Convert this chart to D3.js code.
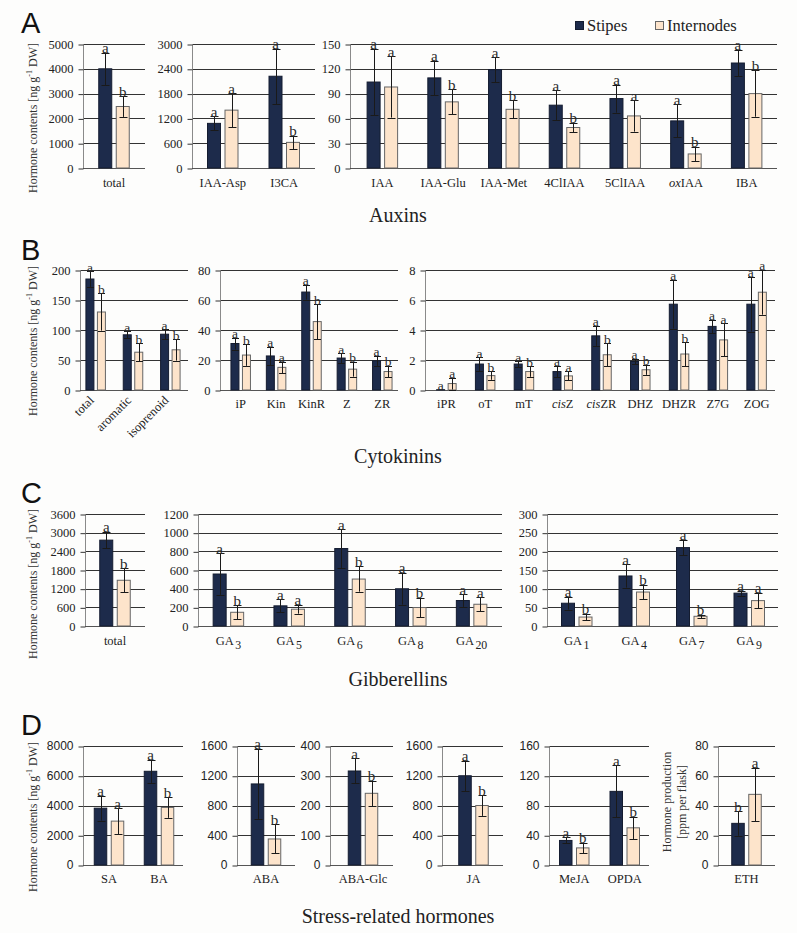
<!DOCTYPE html>
<html><head><meta charset="utf-8">
<script src="https://cdn.jsdelivr.net/npm/d3@7"></script>
<style>body{margin:0;background:#fff}</style>
</head><body>
<svg id="c" width="797" height="933"></svg>
<script>
// ---------- DATA ----------
// Panel A: Auxins
const A1_categories = ["total"];
const A1_stipes = [4000];
const A1_stipesErr = [650];
const A1_internodes = [2480];
const A1_internodesErr = [420];
const A1_stipesLetters = ["a"];
const A1_internodesLetters = ["b"];
const A1_ticks = [0, 1000, 2000, 3000, 4000, 5000];

const A2_categories = ["IAA-Asp", "I3CA"];
const A2_stipes = [1080, 2220];
const A2_stipesErr = [170, 670];
const A2_internodes = [1400, 620];
const A2_internodesErr = [410, 160];
const A2_stipesLetters = ["a", "a"];
const A2_internodesLetters = ["a", "b"];
const A2_ticks = [0, 600, 1200, 1800, 2400, 3000];

const A3_categories = ["IAA", "IAA-Glu", "IAA-Met", "4ClIAA", "5ClIAA", "<i>ox</i>IAA", "IBA"];
const A3_stipes = [104, 109, 119, 76, 84, 57, 127];
const A3_stipesErr = [40, 21, 15, 18, 17, 20, 16];
const A3_internodes = [98, 80, 71, 49, 63, 17, 90];
const A3_internodesErr = [37, 15, 11, 6, 19, 8.5, 28];
const A3_stipesLetters = ["a", "a", "a", "a", "a", "a", "a"];
const A3_internodesLetters = ["a", "b", "b", "b", "a", "b", "b"];
const A3_ticks = [0, 30, 60, 90, 120, 150];

// Panel B: Cytokinins
const B1_categories = ["total", "aromatic", "isoprenoid"];
const B1_stipes = [185, 92, 93];
const B1_stipesErr = [13, 6, 8];
const B1_internodes = [130, 63, 67];
const B1_internodesErr = [31, 15, 18];
const B1_stipesLetters = ["a", "a", "a"];
const B1_internodesLetters = ["b", "b", "b"];
const B1_ticks = [0, 50, 100, 150, 200];

const B2_categories = ["iP", "Kin", "KinR", "Z", "ZR"];
const B2_stipes = [31, 22.7, 65.3, 21.3, 19.5];
const B2_stipesErr = [4, 6, 5, 3.3, 3.4];
const B2_internodes = [23.3, 15.1, 45.6, 13.9, 12.3];
const B2_internodesErr = [7.2, 3.8, 11.7, 5, 3.9];
const B2_stipesLetters = ["a", "a", "a", "a", "a"];
const B2_internodesLetters = ["b", "a", "b", "b", "b"];
const B2_ticks = [0, 20, 40, 60, 80];

const B3_categories = ["iPR", "oT", "mT", "<i>cis</i>Z", "<i>cis</i>ZR", "DHZ", "DHZR", "Z7G", "ZOG"];
const B3_stipes = [0.02, 1.73, 1.73, 1.23, 3.61, 1.9, 5.72, 4.24, 5.72];
const B3_stipesErr = [0, 0.45, 0.2, 0.39, 0.67, 0.17, 1.62, 0.45, 1.82];
const B3_internodes = [0.43, 0.96, 1.23, 0.94, 2.35, 1.35, 2.4, 3.34, 6.52];
const B3_internodesErr = [0.4, 0.28, 0.35, 0.3, 0.77, 0.34, 0.8, 1.1, 1.5];
const B3_stipesLetters = ["a", "a", "a", "a", "a", "a", "a", "a", "a"];
const B3_internodesLetters = ["a", "b", "b", "a", "b", "b", "b", "a", "a"];
const B3_ticks = [0, 2, 4, 6, 8];

// Panel C: Gibberellins
const C1_categories = ["total"];
const C1_stipes = [2760];
const C1_stipesErr = [265];
const C1_internodes = [1470];
const C1_internodesErr = [385];
const C1_stipesLetters = ["a"];
const C1_internodesLetters = ["b"];
const C1_ticks = [0, 600, 1200, 1800, 2400, 3000, 3600];

const C2_categories = ["GA_{3}", "GA_{5}", "GA_{6}", "GA_{8}", "GA_{20}"];
const C2_stipes = [557, 216, 830, 399, 273];
const C2_stipesErr = [223, 68, 207, 170, 68];
const C2_internodes = [147, 180, 503, 198, 233];
const C2_internodesErr = [77, 48, 135, 104, 77];
const C2_stipesLetters = ["a", "a", "a", "a", "a"];
const C2_internodesLetters = ["b", "a", "b", "b", "a"];
const C2_ticks = [0, 200, 400, 600, 800, 1000, 1200];

const C3_categories = ["GA_{1}", "GA_{4}", "GA_{7}", "GA_{9}"];
const C3_stipes = [61, 134, 210, 88];
const C3_stipesErr = [17, 31, 21, 7];
const C3_internodes = [24, 91, 26, 68];
const C3_internodesErr = [9, 20, 4.5, 21];
const C3_stipesLetters = ["a", "a", "a", "a"];
const C3_internodesLetters = ["b", "b", "b", "a"];
const C3_ticks = [0, 50, 100, 150, 200, 250, 300];

// Panel D: Stress-related hormones
const D1_categories = ["SA", "BA"];
const D1_stipes = [3820, 6300];
const D1_stipesErr = [830, 780];
const D1_internodes = [2950, 3870];
const D1_internodesErr = [870, 700];
const D1_stipesLetters = ["a", "a"];
const D1_internodesLetters = ["a", "b"];
const D1_ticks = [0, 2000, 4000, 6000, 8000];

const D2_categories = ["ABA"];
const D2_stipes = [1090];
const D2_stipesErr = [470];
const D2_internodes = [350];
const D2_internodesErr = [195];
const D2_stipesLetters = ["a"];
const D2_internodesLetters = ["b"];
const D2_ticks = [0, 400, 800, 1200, 1600];

const D3_categories = ["ABA-Glc"];
const D3_stipes = [316];
const D3_stipesErr = [42];
const D3_internodes = [241];
const D3_internodesErr = [43];
const D3_stipesLetters = ["a"];
const D3_internodesLetters = ["b"];
const D3_ticks = [0, 100, 200, 300, 400];

const D4_categories = ["JA"];
const D4_stipes = [1200];
const D4_stipesErr = [205];
const D4_internodes = [800];
const D4_internodesErr = [140];
const D4_stipesLetters = ["a"];
const D4_internodesLetters = ["b"];
const D4_ticks = [0, 400, 800, 1200, 1600];

const D5_categories = ["MeJA", "OPDA"];
const D5_stipes = [33, 99];
const D5_stipesErr = [4, 35];
const D5_internodes = [23, 50];
const D5_internodesErr = [7, 15];
const D5_stipesLetters = ["a", "a"];
const D5_internodesLetters = ["b", "b"];
const D5_ticks = [0, 40, 80, 120, 160];

const D6_categories = ["ETH"];
const D6_stipes = [28];
const D6_stipesErr = [8.3];
const D6_internodes = [47.5];
const D6_internodesErr = [18];
const D6_stipesLetters = ["b"];
const D6_internodesLetters = ["a"];
const D6_ticks = [0, 20, 40, 60, 80];

const seriesNames = ["Stipes", "Internodes"];
const sectionTitles = ["Auxins", "Cytokinins", "Gibberellins", "Stress-related hormones"];
const panelLetters = ["A", "B", "C", "D"];

// ---------- STYLE / LAYOUT ----------
const SERIF = "'Liberation Serif','Times New Roman',serif";
const SANS = "'Liberation Sans',Arial,sans-serif";
const STIPES_FILL = "#1d2b4b", STIPES_STROKE = "#141c30";
const INT_FILL = "#fde4cb", INT_STROKE = "#666";
const GRID = "#333", AXIS = "#8a8a8a";
const TEXT = "#222";

const svg = d3.select("#c");
svg.append("rect").attr("width", 797).attr("height", 933).attr("fill", "#fdfdfc");

function mk(p, cats, s, se, i, ie, ls, li, ticks, lay) {
  return Object.assign({cats, s, se, i, ie, ls, li, ticks}, p, lay);
}
const PA = {top: 44, bottom: 168, bw: 14, gap: 3.5, cap: 4, tickFont: SERIF, tickSize: 12.5, letterSize: 15, labelDy: 19};
const PB = {top: 270, bottom: 390, bw: 9, gap: 2.5, cap: 3.5, tickFont: SERIF, tickSize: 12.5, letterSize: 13.5, labelDy: 18};
const PC = {top: 514, bottom: 626, bw: 14, gap: 3.5, cap: 4, tickFont: SERIF, tickSize: 12.5, letterSize: 15, labelDy: 19};
const PD = {top: 746, bottom: 865, bw: 13.5, gap: 3.5, cap: 4, tickFont: SANS, tickSize: 12, letterSize: 15, labelDy: 18};

const subplots = [
  mk(PA, A1_categories, A1_stipes, A1_stipesErr, A1_internodes, A1_internodesErr, A1_stipesLetters, A1_internodesLetters, A1_ticks, {axisX: 83, endX: 145, band: [83, 145]}),
  mk(PA, A2_categories, A2_stipes, A2_stipesErr, A2_internodes, A2_internodesErr, A2_stipesLetters, A2_internodesLetters, A2_ticks, {axisX: 192, endX: 315, band: [192, 315]}),
  mk(PA, A3_categories, A3_stipes, A3_stipesErr, A3_internodes, A3_internodesErr, A3_stipesLetters, A3_internodesLetters, A3_ticks, {axisX: 350, endX: 777, band: [352, 777]}),
  mk(PB, B1_categories, B1_stipes, B1_stipesErr, B1_internodes, B1_internodesErr, B1_stipesLetters, B1_internodesLetters, B1_ticks, {axisX: 80, endX: 188, band: [77, 189], rotate: true}),
  mk(PB, B2_categories, B2_stipes, B2_stipesErr, B2_internodes, B2_internodesErr, B2_stipesLetters, B2_internodesLetters, B2_ticks, {axisX: 220, endX: 398, band: [223, 400]}),
  mk(PB, B3_categories, B3_stipes, B3_stipesErr, B3_internodes, B3_internodesErr, B3_stipesLetters, B3_internodesLetters, B3_ticks, {axisX: 425, endX: 775, band: [427, 776]}),
  mk(PC, C1_categories, C1_stipes, C1_stipesErr, C1_internodes, C1_internodesErr, C1_stipesLetters, C1_internodesLetters, C1_ticks, {axisX: 85, endX: 145, band: [85, 145]}),
  mk(PC, C2_categories, C2_stipes, C2_stipesErr, C2_internodes, C2_internodesErr, C2_stipesLetters, C2_internodesLetters, C2_ticks, {axisX: 198, endX: 502, band: [198, 502]}),
  mk(PC, C3_categories, C3_stipes, C3_stipesErr, C3_internodes, C3_internodesErr, C3_stipesLetters, C3_internodesLetters, C3_ticks, {axisX: 547, endX: 778, band: [548, 778]}),
  mk(PD, D1_categories, D1_stipes, D1_stipesErr, D1_internodes, D1_internodesErr, D1_stipesLetters, D1_internodesLetters, D1_ticks, {axisX: 83, endX: 183, band: [84, 184]}),
  mk(PD, D2_categories, D2_stipes, D2_stipesErr, D2_internodes, D2_internodesErr, D2_stipesLetters, D2_internodesLetters, D2_ticks, {axisX: 237, endX: 295, band: [237, 295]}),
  mk(PD, D3_categories, D3_stipes, D3_stipesErr, D3_internodes, D3_internodesErr, D3_stipesLetters, D3_internodesLetters, D3_ticks, {axisX: 330, endX: 393, band: [331, 395]}),
  mk(PD, D4_categories, D4_stipes, D4_stipesErr, D4_internodes, D4_internodesErr, D4_stipesLetters, D4_internodesLetters, D4_ticks, {axisX: 442, endX: 503, band: [443, 504]}),
  mk(PD, D5_categories, D5_stipes, D5_stipesErr, D5_internodes, D5_internodesErr, D5_stipesLetters, D5_internodesLetters, D5_ticks, {axisX: 549, endX: 649, band: [549, 650]}),
  mk(PD, D6_categories, D6_stipes, D6_stipesErr, D6_internodes, D6_internodesErr, D6_stipesLetters, D6_internodesLetters, D6_ticks, {axisX: 718, endX: 775, band: [718, 775]})
];

// rich label: <i>..</i> italic, _{..} subscript
function richText(textSel, label, size) {
  const parts = label.split(/(<i>.*?<\/i>|_\{.*?\})/).filter(p => p);
  let shifted = 0;
  parts.forEach(p => {
    const t = textSel.append("tspan");
    if (p.startsWith("<i>")) {
      t.text(p.slice(3, -4)).attr("font-style", "italic");
    } else if (p.startsWith("_{")) {
      t.text(p.slice(2, -1)).attr("dy", 4).attr("dx", 1.5).attr("font-size", size * 0.95);
      shifted += 4;
    } else {
      t.text(p);
      if (shifted) { t.attr("dy", -shifted); shifted = 0; }
    }
  });
}

subplots.forEach(sp => {
  const g = svg.append("g");
  const y = d3.scaleLinear().domain([0, d3.max(sp.ticks)]).range([sp.bottom, sp.top]);
  const x = d3.scaleBand().domain(sp.cats).range(sp.band);

  // gridlines
  g.append("g").selectAll("line").data(sp.ticks).join("line")
    .attr("x1", sp.axisX).attr("x2", sp.endX)
    .attr("y1", d => Math.round(y(d)) + 0.5).attr("y2", d => Math.round(y(d)) + 0.5)
    .attr("stroke", d => d === 0 ? "#555" : GRID).attr("stroke-width", 1);

  // y axis
  const ax = g.append("g").attr("transform", `translate(${Math.round(sp.axisX) + 0.5},0)`)
    .call(d3.axisLeft(y).tickValues(sp.ticks).tickSize(5).tickPadding(5).tickFormat(d3.format("d")))
    .attr("font-family", sp.tickFont).attr("font-size", sp.tickSize);
  ax.select(".domain").attr("stroke", AXIS).attr("d", `M0,${sp.top}V${sp.bottom}`);
  ax.selectAll(".tick line").attr("stroke", GRID).attr("transform", "translate(0,0.5)");
  ax.selectAll(".tick text").attr("font-family", sp.tickFont).attr("font-size", sp.tickSize).attr("fill", TEXT);

  // x axis labels
  const xa = g.append("g").attr("transform", `translate(0,${sp.bottom})`)
    .call(d3.axisBottom(x).tickSize(0).tickFormat(() => ""))
    .attr("font-family", SERIF).attr("font-size", 12.5);
  xa.select(".domain").remove();
  xa.selectAll(".tick text").each(function (d) {
    const t = d3.select(this).attr("font-family", SERIF).attr("font-size", 12.5).attr("fill", TEXT).attr("dy", null);
    if (sp.rotate) {
      t.attr("text-anchor", "end").attr("y", 0).attr("x", 0)
        .attr("transform", `translate(-1,11) rotate(-45)`);
    } else {
      t.attr("y", sp.labelDy);
    }
    richText(t, d, 12.5);
  });

  const xs = c => x(c) + x.bandwidth() / 2 - sp.gap / 2 - sp.bw;
  const xi = c => x(c) + x.bandwidth() / 2 + sp.gap / 2;

  const series = [
    {vals: sp.s, errs: sp.se, lets: sp.ls, xf: xs, fill: STIPES_FILL, stroke: STIPES_STROKE},
    {vals: sp.i, errs: sp.ie, lets: sp.li, xf: xi, fill: INT_FILL, stroke: INT_STROKE}
  ];
  series.forEach(se => {
    const data = sp.cats.map((c, k) => ({c, v: se.vals[k], e: se.errs[k], l: se.lets[k]}));
    g.append("g").selectAll("rect").data(data).join("rect")
      .attr("x", d => se.xf(d.c) + 0.5).attr("width", sp.bw - 1)
      .attr("y", d => y(d.v)).attr("height", d => Math.max(0, y(0) - y(d.v)))
      .attr("fill", se.fill).attr("stroke", se.stroke).attr("stroke-width", 1);
    const eg = g.append("g").attr("stroke", "#1a1a1a").attr("stroke-width", 1);
    data.filter(d => d.e > 0).forEach(d => {
      const cx = Math.round(se.xf(d.c) + sp.bw / 2) + 0.5;
      eg.append("line").attr("x1", cx).attr("x2", cx).attr("y1", y(d.v + d.e)).attr("y2", y(d.v - d.e));
      [d.v + d.e, d.v - d.e].forEach(vv => {
        eg.append("line").attr("x1", cx - sp.cap).attr("x2", cx + sp.cap)
          .attr("y1", Math.round(y(vv)) + 0.5).attr("y2", Math.round(y(vv)) + 0.5);
      });
    });
    g.append("g").selectAll("text").data(data).join("text")
      .attr("x", d => se.xf(d.c) + sp.bw / 2).attr("y", d => y(d.v + d.e) + 0.5)
      .attr("text-anchor", "middle").attr("font-family", SERIF).attr("font-size", sp.letterSize)
      .attr("fill", "#2a2a2a").text(d => d.l);
  });
});

// Y titles
function yTitle(cx, cy) {
  const t = svg.append("text").attr("transform", `translate(${cx},${cy}) rotate(-90)`)
    .attr("text-anchor", "middle").attr("font-family", SERIF).attr("font-size", 12).attr("fill", "#333");
  t.append("tspan").text("Hormone contents [ng g");
  t.append("tspan").text("-1").attr("font-size", 8).attr("dy", -5);
  t.append("tspan").text(" DW]").attr("dy", 5);
}
yTitle(37, 118);
yTitle(37, 341);
yTitle(37, 584);
yTitle(37, 817);
const eth = svg.append("text").attr("transform", `translate(671,802) rotate(-90)`)
  .attr("text-anchor", "middle").attr("font-family", SERIF).attr("font-size", 12).attr("fill", "#333");
eth.append("tspan").attr("x", 0).attr("dy", 0).text("Hormone production");
eth.append("tspan").attr("x", 0).attr("dy", 15).text("[ppm per flask]");

// Panel letters
const letterY = [33, 260, 503, 735];
panelLetters.forEach((L, k) => {
  svg.append("text").attr("x", 21).attr("y", letterY[k]).attr("font-family", SANS)
    .attr("font-size", 29).attr("fill", "#111").text(L);
});

// Section titles
const titleY = [222, 463, 686, 923];
sectionTitles.forEach((T, k) => {
  svg.append("text").attr("x", 398).attr("y", titleY[k]).attr("text-anchor", "middle")
    .attr("font-family", SERIF).attr("font-size", 20).attr("fill", TEXT).text(T);
});

// Legend
const legendX = [575, 655];
const legFill = [STIPES_FILL, INT_FILL], legStroke = [STIPES_STROKE, INT_STROKE];
seriesNames.forEach((n, k) => {
  svg.append("rect").attr("x", legendX[k] + 0.5).attr("y", 21.5).attr("width", 8).attr("height", 8)
    .attr("fill", legFill[k]).attr("stroke", legStroke[k]);
  svg.append("text").attr("x", legendX[k] + 12).attr("y", 31).attr("font-family", SERIF)
    .attr("font-size", 16.5).attr("fill", TEXT).text(n);
});
</script>
</body></html>
